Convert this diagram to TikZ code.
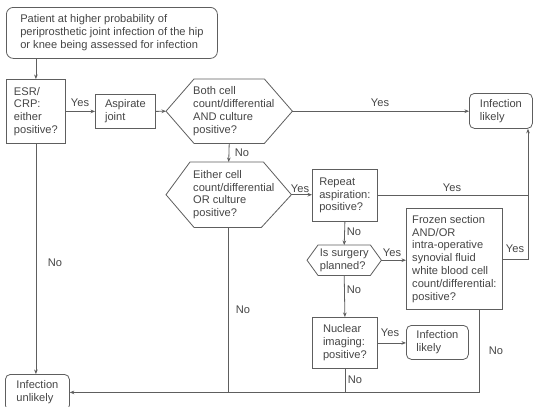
\documentclass[tikz,border=0pt]{standalone}
\usepackage{fontspec}
\setmainfont{Liberation Sans}
\usetikzlibrary{arrows.meta}
\definecolor{txt}{HTML}{454545}
\definecolor{ln}{HTML}{5E5E5E}
\begin{document}
\begin{tikzpicture}[x=1bp,y=-1bp,
  every node/.style={font=\fontsize{11.1bp}{12.8bp}\selectfont, text=txt},
  box/.style={draw=ln, line width=0.8bp, inner sep=0pt, align=left, anchor=north west},
  rbox/.style={box, rounded corners=5bp},
  hexa/.style={inner sep=0pt, anchor=north west},
  htext/.style={inner sep=0pt, anchor=west, align=left, xshift=27bp},
  line/.style={draw=ln, line width=0.8bp},
  arr/.style={line, -{Stealth[length=4.5bp,width=3.6bp]}},
  lab/.style={inner sep=0pt}]
\useasboundingbox[fill=white] (0,0) rectangle (537,406);

% boxes
\node[rbox, rounded corners=7bp, minimum width=211bp, minimum height=51bp] (top) at (6,7)
  {Patient at higher probability of\\periprosthetic joint infection of the hip\\or knee being assessed for infection};
\node[box, minimum width=59bp, minimum height=64bp] (esr) at (6,79)
  {ESR/\\CRP:\\either\\positive?};
\node[box, minimum width=60bp, minimum height=34bp] (asp) at (95,94)
  {Aspirate\\joint};
\node[hexa, minimum width=126bp, minimum height=64bp,
  label={[htext]west:Both cell\\count/differential\\AND culture\\positive?}] (both) at (166,79) {};
\node[rbox, minimum width=63bp, minimum height=35bp] (likely1) at (469,93)
  {Infection\\likely};
\node[hexa, minimum width=125bp, minimum height=65bp,
  label={[htext]west:Either cell\\count/differential\\OR culture\\positive?}] (either) at (166,162) {};
\node[box, minimum width=65bp, minimum height=52bp] (repeat) at (312,169)
  {Repeat\\aspiration:\\positive?};
\node[hexa, minimum width=74bp, minimum height=30bp, align=left] (surg) at (307,245)
  {Is surgery\\planned?};
\node[box, minimum width=96bp, minimum height=101bp] (frozen) at (406,208)
  {Frozen section\\AND/OR\\intra-operative\\synovial fluid\\white blood cell\\count/differential:\\positive?};
\node[box, minimum width=65bp, minimum height=51bp] (nuc) at (312,317)
  {Nuclear\\imaging:\\positive?};
\node[rbox, minimum width=62bp, minimum height=34bp] (likely2) at (406,325)
  {Infection\\likely};
\node[rbox, minimum width=64bp, minimum height=36bp] (unlikely) at (5,374)
  {Infection\\unlikely};

% hexagon outlines
\draw[line] (both.west) -- ([xshift=28bp]both.north west) -- ([xshift=-28bp]both.north east)
  -- (both.east) -- ([xshift=-28bp]both.south east) -- ([xshift=28bp]both.south west) -- cycle;
\draw[line] (either.west) -- ([xshift=24bp]either.north west) -- ([xshift=-28bp]either.north east)
  -- (either.east) -- ([xshift=-30bp]either.south east) -- ([xshift=28bp]either.south west) -- cycle;
\draw[line] (surg.west) -- ([xshift=11bp]surg.north west) -- ([xshift=-11bp]surg.north east)
  -- (surg.east) -- ([xshift=-11bp]surg.south east) -- ([xshift=11bp]surg.south west) -- cycle;

\coordinate (jx) at (528,0);

% connectors
\draw[arr] (esr.north |- top.south) -- (esr.north);
\draw[arr] (esr.east |- asp.west) -- (asp.west);
\draw[arr] (asp.east) -- (both.west);
\draw[arr] (both.east) -- (both.east -| likely1.west);
\draw[arr] (both.south) -- (either.north);
\draw[arr] (either.east) -- (either.east -| repeat.west);
\draw[line] (repeat.east) -- (repeat.east -| jx);
\draw[arr] (frozen.east) -- (frozen.east -| jx) -- (jx |- likely1.south);
\draw[arr] (repeat.south) -- (surg.north);
\draw[arr] (surg.east) -- (surg.east -| frozen.west);
\draw[arr] (surg.south) -- (nuc.north);
\draw[arr] (nuc.east) -- (nuc.east -| likely2.west);
\draw[line] (nuc.south) -- (nuc.south |- unlikely.east);
\draw[line] (either.south) -- (either.south |- unlikely.east);
\draw[arr] ([xshift=-23bp]frozen.south east) |- (unlikely.east);
\draw[arr] (esr.south) -- (esr.south |- unlikely.north);

% labels
\node[lab] (l1) at (80,103) {Yes};
\node[lab] (l2) at (380,103) {Yes};
\node[lab] (l3) at (242,153) {No};
\node[lab] (l4) at (300,189) {Yes};
\node[lab] (l5) at (452,188) {Yes};
\node[lab] (l6) at (354,232) {No};
\node[lab] (l7) at (392,253) {Yes};
\node[lab] (l8) at (515,249) {Yes};
\node[lab] (l9) at (354,290) {No};
\node[lab] (l10) at (243,310) {No};
\node[lab] (l11) at (390,333) {Yes};
\node[lab] (l12) at (355,380) {No};
\node[lab] (l13) at (496,351) {No};
\node[lab] (l14) at (55,263) {No};
\end{tikzpicture}
\end{document}
